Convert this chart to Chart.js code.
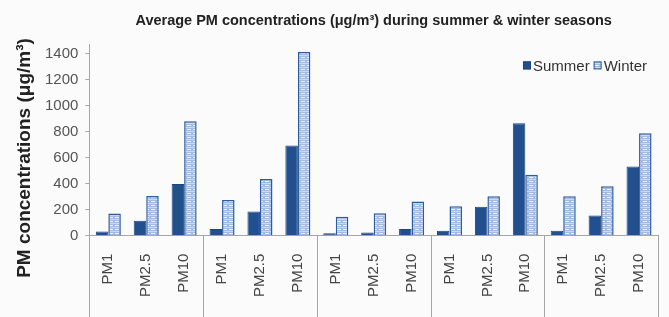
<!DOCTYPE html>
<html>
<head>
<meta charset="utf-8">
<script src="https://cdn.jsdelivr.net/npm/chart.js@4.4.1/dist/chart.umd.min.js"></script>
<style>
  html, body { margin: 0; padding: 0; background: #fbfbfb; }
  #wrap { width: 669px; height: 317px; position: relative; }
</style>
</head>
<body>
<div id="wrap"><canvas id="c" width="669" height="317"></canvas></div>
<script>
const categories = ["PM1","PM2.5","PM10","PM1","PM2.5","PM10","PM1","PM2.5","PM10","PM1","PM2.5","PM10","PM1","PM2.5","PM10"];
const summerValues = [31, 115, 397, 51, 185, 692, 18, 25, 51, 38, 223, 864, 38, 154, 531];
const winterValues = [171, 305, 879, 274, 436, 1412, 146, 172, 262, 226, 303, 469, 303, 380, 787];
const yTicks = [0, 200, 400, 600, 800, 1000, 1200, 1400];
const seriesNames = ['Summer', 'Winter'];
const groupSize = 3;
const yTitle = 'PM concentrations (\u03bcg/m\u00b3)';

function makePattern() {
  const p = document.createElement('canvas');
  p.width = 6; p.height = 4;
  const g = p.getContext('2d');
  g.fillStyle = '#9fbbe3';
  g.fillRect(0, 0, 6, 4);
  g.fillStyle = '#eef4fc';
  g.fillRect(1, 1, 4, 1);
  g.fillStyle = '#c9daf1';
  g.fillRect(0, 3, 6, 1);
  return g.createPattern(p, 'repeat');
}
const ctx = document.getElementById('c').getContext('2d');
const winterPattern = makePattern();

const decorations = {
  id: 'decorations',
  afterDraw(chart) {
    const xs = chart.scales.x;
    const ca = chart.chartArea;
    const c = chart.ctx;
    c.save();
    // group separators below the axis
    c.strokeStyle = '#a6a6a6';
    c.lineWidth = 1;
    for (let i = 0; i <= categories.length; i += groupSize) {
      const x = Math.round(xs.getPixelForValue(i - 0.5)) + 0.5;
      c.beginPath();
      c.moveTo(x, ca.bottom);
      c.lineTo(x, chart.height);
      c.stroke();
    }
    // y axis title
    c.save();
    c.translate(25, 158);
    c.rotate(-Math.PI / 2);
    c.fillStyle = '#222';
    c.font = 'bold 19px "Liberation Sans"';
    c.textAlign = 'center';
    c.textBaseline = 'middle';
    c.fillText(yTitle, 0, 0);
    c.restore();
    // legend, top-right inside plot area
    c.font = '15px "Liberation Sans"';
    c.textBaseline = 'middle';
    c.textAlign = 'left';
    const box = 8, gapBox = 2, gapItem = 4;
    const ds = chart.data.datasets;
    let total = 0;
    seriesNames.forEach((n, i) => { total += box + gapBox + c.measureText(n).width + (i ? gapItem : 0); });
    let x = ca.right - 11 - total;
    const cy = ca.top + 21;
    seriesNames.forEach((n, i) => {
      if (i) x += gapItem;
      c.fillStyle = ds[i].backgroundColor;
      c.fillRect(x, cy - box / 2, box, box);
      c.strokeStyle = ds[i].borderColor;
      c.lineWidth = 1;
      c.strokeRect(x + 0.5, cy - box / 2 + 0.5, box - 1, box - 1);
      x += box + gapBox;
      c.fillStyle = '#333';
      c.fillText(n, x, cy + 1);
      x += c.measureText(n).width;
    });
    c.restore();
  }
};

new Chart(ctx, {
  type: 'bar',
  data: {
    labels: categories,
    datasets: [
      { label: seriesNames[0], data: summerValues, backgroundColor: '#22508f', borderColor: '#1b4580', borderWidth: 1,
        categoryPercentage: 0.66, barPercentage: 1.0 },
      { label: seriesNames[1], data: winterValues, backgroundColor: winterPattern, borderColor: '#2d5b9c', borderWidth: 1.5,
        categoryPercentage: 0.66, barPercentage: 1.0 }
    ]
  },
  options: {
    responsive: false,
    animation: false,
    devicePixelRatio: 1,
    layout: { padding: { left: 38, right: 11, top: 6, bottom: 18 } },
    plugins: {
      title: {
        display: true,
        fullSize: false,
        text: 'Average PM concentrations (\u03bcg/m\u00b3) during summer & winter seasons',
        color: '#222',
        font: { family: 'Liberation Sans', size: 14.5, weight: 'bold' },
        padding: { top: 6, bottom: 15 }
      },
      legend: { display: false },
      tooltip: { enabled: false }
    },
    scales: {
      x: {
        offset: true,
        grid: { display: true, drawOnChartArea: false, drawTicks: true, tickLength: 16, color: 'rgba(0,0,0,0)' },
        border: { display: true, color: '#a6a6a6' },
        ticks: {
          minRotation: 90, maxRotation: 90,
          padding: 2,
          color: '#444',
          font: { family: 'Liberation Sans', size: 15 }
        }
      },
      y: {
        min: 0, max: 1470,
        afterBuildTicks(scale) { scale.ticks = yTicks.map(v => ({ value: v })); },
        grid: { drawOnChartArea: false, drawTicks: true, tickLength: 4, color: '#a6a6a6' },
        border: { display: true, color: '#a6a6a6' },
        ticks: {
          padding: 7,
          color: '#555',
          font: { family: 'Liberation Sans', size: 15 },
          callback: v => String(v)
        }
      }
    }
  },
  plugins: [decorations]
});
</script>
</body>
</html>
